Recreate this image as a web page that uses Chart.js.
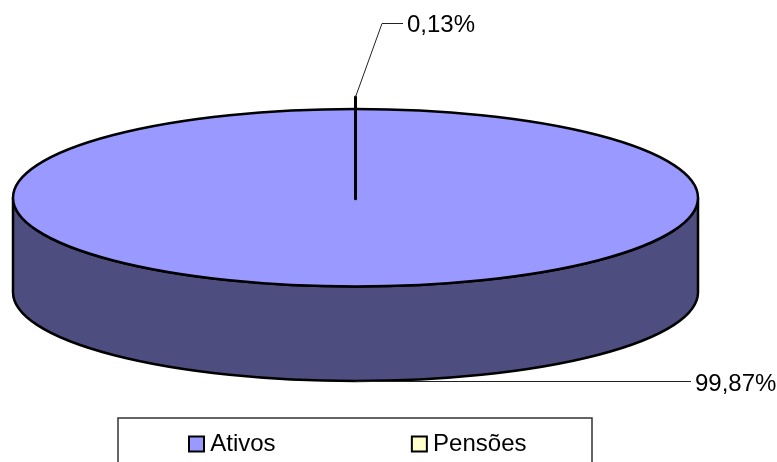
<!DOCTYPE html>
<html>
<head>
<meta charset="utf-8">
<style>html,body{margin:0;padding:0;background:#fff;overflow:hidden}canvas{display:block}</style>
<script src="https://cdn.jsdelivr.net/npm/chart.js@4/dist/chart.umd.min.js"></script>
</head>
<body>
<canvas id="c" width="777" height="462"></canvas>
<script>
const categories = ['Ativos', 'Pensões'];
const shares = [99.87, 0.13];
const shareLabels = ['99,87%', '0,13%'];
const sliceColors = ['#9999FF', '#FFFFCC'];

const FONT = '"Liberation Sans", Arial, sans-serif';
const FONT_SIZE = 24;
const TILT = { cx: 355.5, cy: 197.75, rx: 342.5, ry: 88.75, depth: 94.5 };
const WALL = '#4D4D80';
const LEGEND_GAP = 142;

function rimPoint(a, dy) {
  return { x: TILT.cx + TILT.rx * Math.cos(a), y: TILT.cy + TILT.ry * Math.sin(a) + (dy || 0) };
}

const tiltedPie = {
  id: 'tiltedPie',
  afterLayout(chart) {
    const lg = chart.legend;
    lg.top = 432 - LEGEND_GAP;
    const cursorNow = (lg.left + LEGEND_GAP + lg.right - lg.lineWidths[0]) / 2;
    const shift = 194.75 - cursorNow;
    lg.left += shift;
    lg.right += shift;
  },
  beforeDatasetsDraw(chart) {
    const { ctx } = chart;
    const arc = chart.getDatasetMeta(0).data[0];
    const { cx, cy, rx, ry, depth } = TILT;
    // legend frame
    ctx.save();
    ctx.strokeStyle = '#333';
    ctx.lineWidth = 1.5;
    ctx.beginPath();
    ctx.moveTo(118, 470); ctx.lineTo(118, 418); ctx.lineTo(592, 418); ctx.lineTo(592, 470);
    ctx.stroke();
    // extruded wall
    ctx.beginPath();
    ctx.ellipse(cx, cy, rx, ry, 0, 0, Math.PI);
    ctx.lineTo(cx - rx, cy + depth);
    ctx.ellipse(cx, cy + depth, rx, ry, 0, Math.PI, 0, true);
    ctx.closePath();
    ctx.fillStyle = WALL;
    ctx.fill();
    ctx.strokeStyle = '#000';
    ctx.lineWidth = 2.5;
    ctx.stroke();
    ctx.restore();
    // flatten the library's own arcs onto the ellipse
    ctx.save();
    const R = arc.outerRadius;
    ctx.translate(cx, cy);
    ctx.scale(rx / R, ry / R);
    ctx.translate(-arc.x, -arc.y);
  },
  afterDatasetsDraw(chart) {
    const { ctx } = chart;
    ctx.restore();
    const { cx, cy, rx, ry } = TILT;
    const thin = chart.getDatasetMeta(0).data[1];
    const mid = (thin.startAngle + thin.endAngle) / 2;
    const rim = rimPoint(mid);
    ctx.save();
    ctx.strokeStyle = '#000';
    ctx.lineWidth = 2.5;
    ctx.beginPath();
    ctx.ellipse(cx, cy, rx, ry, 0, 0, Math.PI * 2);
    ctx.stroke();
    // thin slice and its raised edge
    const lift = { x: rim.x, y: rim.y - 12 };
    ctx.lineWidth = 3;
    ctx.lineCap = 'round';
    ctx.beginPath();
    ctx.moveTo(cx, cy + 1);
    ctx.lineTo(lift.x, lift.y);
    ctx.stroke();
    // leader lines
    ctx.lineCap = 'butt';
    ctx.lineWidth = 1;
    ctx.strokeStyle = '#222';
    ctx.beginPath();
    ctx.moveTo(lift.x, lift.y);
    ctx.lineTo(382, 23.5);
    ctx.lineTo(403, 23.5);
    ctx.moveTo(cx, cy + TILT.depth + ry + 0.5);
    ctx.lineTo(691, cy + TILT.depth + ry + 0.5);
    ctx.stroke();
    // value labels
    ctx.fillStyle = '#000';
    ctx.font = FONT_SIZE + 'px ' + FONT;
    ctx.textAlign = 'left';
    ctx.textBaseline = 'middle';
    ctx.fillText(shareLabels[1], 407, 25);
    ctx.fillText(shareLabels[0], 695, 384);
    ctx.restore();
  }
};

new Chart(document.getElementById('c'), {
  type: 'pie',
  data: {
    labels: categories,
    datasets: [{
      data: shares,
      backgroundColor: sliceColors,
      borderWidth: 0,
      clip: false
    }]
  },
  options: {
    responsive: false,
    animation: false,
    devicePixelRatio: 1,
    rotation: shares[1] / 100 * 180,
    plugins: {
      tooltip: { enabled: false },
      legend: {
        display: true,
        position: 'bottom',
        labels: {
          usePointStyle: true,
          pointStyle: 'rect',
          boxWidth: 3.5,
          boxHeight: 15,
          padding: LEGEND_GAP,
          color: '#000',
          font: { family: FONT, size: FONT_SIZE, lineHeight: 1 },
          generateLabels(chart) {
            return Chart.overrides.pie.plugins.legend.labels.generateLabels(chart).map(l => ({
              ...l, strokeStyle: '#000', lineWidth: 2, pointStyle: 'rect'
            }));
          }
        }
      }
    }
  },
  plugins: [tiltedPie]
});
</script>
</body>
</html>
